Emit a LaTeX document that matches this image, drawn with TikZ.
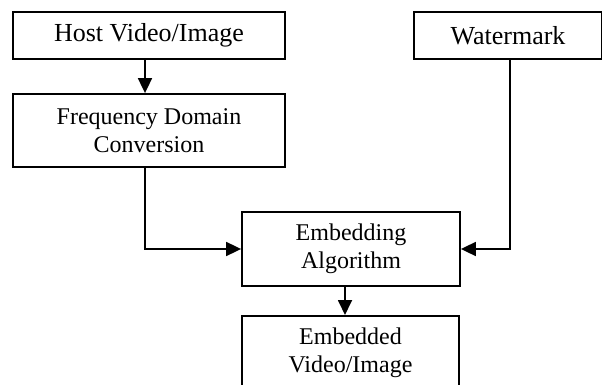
\documentclass[tikz,border=0pt]{standalone}
\usepackage{fontspec}
\setmainfont{Liberation Serif}
\usetikzlibrary{arrows.meta}
\tikzset{
  box/.style={draw, line width=1.8pt, rectangle, inner sep=0pt, align=center},
  bigtxt/.style={font=\fontsize{26}{30}\selectfont},
  smalltxt/.style={font=\fontsize{24}{28}\selectfont},
  arr/.style={line width=1.8pt, -{Triangle[length=15pt,width=14pt]}},
}
\begin{document}
\begin{tikzpicture}[x=1pt,y=-1pt]
\useasboundingbox (0,0) rectangle (602,385);
\clip (0,0) rectangle (602,385);
\node[box,bigtxt,minimum width=272pt,minimum height=47pt] (host) at (149,35.5) {Host Video/Image};
\node[box,smalltxt,minimum width=272pt,minimum height=73pt] (freq) at (149,130.5) {Frequency Domain\\Conversion};
\node[box,bigtxt,minimum width=188pt,minimum height=47pt] (wm) at (508,35.5) {Watermark};
\node[box,smalltxt,minimum width=218pt,minimum height=74pt] (emb) at (351,249) {Embedding\\Algorithm};
\node[box,smalltxt,minimum width=217pt,minimum height=74pt,anchor=north] (out) at (350.5,315) {Embedded\\Video/Image};
\draw[arr] ([xshift=-4pt]host.south) -- ([xshift=-4pt]freq.north);
\draw[arr] ([xshift=-4pt]freq.south) |- (emb.west);
\draw[arr] ([xshift=2pt]wm.south) |- (emb.east);
\draw[arr] ([xshift=-6pt]emb.south) -- ([xshift=-5.5pt]out.north);
\end{tikzpicture}
\end{document}
